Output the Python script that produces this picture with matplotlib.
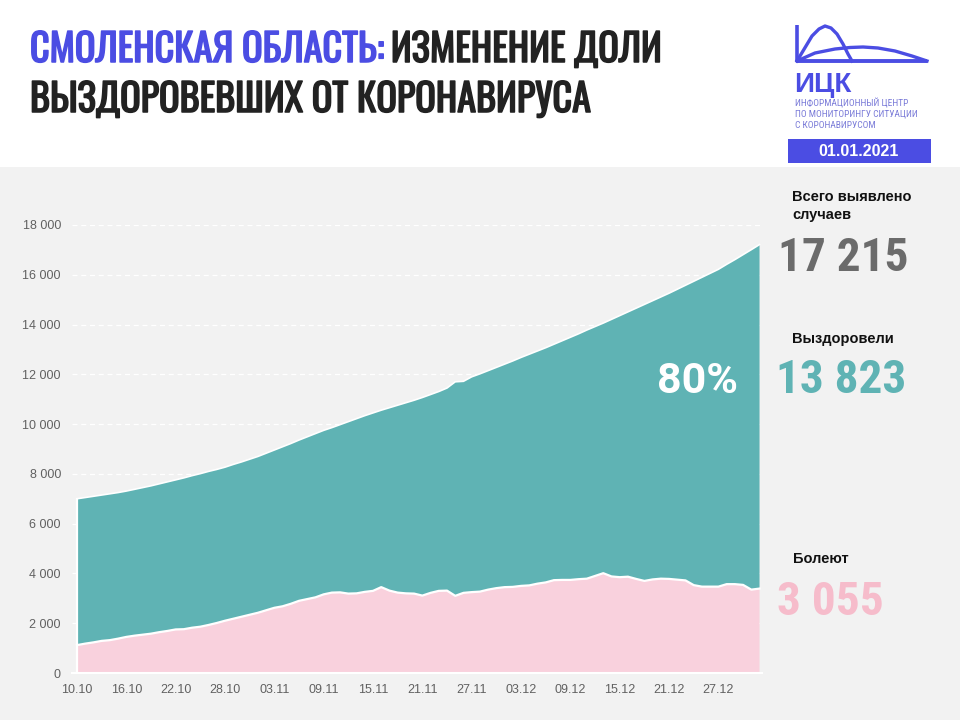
import matplotlib
matplotlib.use("Agg")
import matplotlib.pyplot as plt
import matplotlib.patheffects as pe
from matplotlib.patches import Rectangle
import numpy as np

# данные: 10.10.2020 - 01.01.2021
start_labels = ["10.10", "16.10", "22.10", "28.10", "03.11", "09.11", "15.11",
                "21.11", "27.11", "03.12", "09.12", "15.12", "21.12", "27.12"]

total = [7000, 7050, 7100, 7150, 7200, 7250, 7310, 7380, 7450, 7520,
         7600, 7680, 7760, 7840, 7930, 8010, 8100, 8180, 8270, 8380,
         8480, 8590, 8700, 8830, 8960, 9090, 9220, 9360, 9490, 9620,
         9750, 9860, 9980, 10100, 10220, 10340, 10450, 10560, 10660, 10760,
         10860, 10960, 11070, 11190, 11310, 11450, 11700, 11720, 11900, 12020,
         12150, 12280, 12410, 12540, 12680, 12810, 12940, 13070, 13210, 13350,
         13490, 13630, 13780, 13920, 14060, 14210, 14360, 14510, 14660, 14810,
         14960, 15110, 15260, 15420, 15580, 15740, 15900, 16060, 16220, 16420,
         16610, 16810, 17010, 17215]

# не выздоровели (болеют + умерли)
active = [1120, 1180, 1230, 1290, 1320, 1380, 1450, 1500, 1540, 1580,
          1640, 1690, 1750, 1760, 1820, 1860, 1930, 2010, 2100, 2180,
          2260, 2340, 2420, 2520, 2620, 2680, 2780, 2900, 2970, 3040,
          3160, 3230, 3240, 3190, 3200, 3260, 3300, 3450, 3310, 3230,
          3200, 3190, 3110, 3220, 3300, 3310, 3100, 3220, 3250, 3270,
          3350, 3410, 3450, 3460, 3500, 3520, 3590, 3640, 3730, 3740,
          3740, 3770, 3790, 3900, 4010, 3880, 3850, 3870, 3780, 3700,
          3760, 3790, 3780, 3750, 3720, 3530, 3470, 3470, 3470, 3570,
          3570, 3540, 3350, 3392]

yticks = [0, 2000, 4000, 6000, 8000, 10000, 12000, 14000, 16000, 18000]

BLUE = "#4b4de3"
TEAL = "#5fb3b4"
PINK = "#f9d1dd"
BG = "#f2f2f2"

W, H = 960, 720
fig = plt.figure(figsize=(9.6, 7.2), dpi=100, facecolor="white")

def fx(px):
    return px / W

def fy(py):
    return 1 - py / H

title_font = ["Oswald", "Roboto Condensed", "PT Sans Narrow", "DejaVu Sans"]
num_font = ["Roboto Condensed", "PT Sans Narrow", "Liberation Sans", "DejaVu Sans"]
lab_font = ["Liberation Sans", "DejaVu Sans"]

# серый фон нижней части
fig.patches.append(Rectangle((0, 0), 1, fy(167), transform=fig.transFigure,
                             facecolor=BG, edgecolor="none", zorder=-5))

days = np.arange(len(total))
recovered = np.array(total) - np.array(active)

ax = fig.add_axes([fx(72), fy(673), fx(762 - 72), (673 - 225) / H])
ax.set_facecolor("none")
ax.stackplot(days, active, recovered, colors=[PINK, TEAL], zorder=2)
ax.plot(days, active, color="white", lw=1.6, zorder=3)
ax.plot(days, total, color="white", lw=1.2, zorder=3)
ax.plot([days[0], days[0]], [0, total[0]], color="white", lw=1.6, zorder=3)

ax.set_xlim(-0.6, 83.3)
ax.set_ylim(0, 18000)
ax.set_yticks(yticks)
ax.set_yticklabels([f"{v:,}".replace(",", " ") for v in yticks])
ax.set_xticks(np.arange(0, 84, 6))
ax.set_xticklabels(start_labels)
ax.grid(axis="y", color="white", ls=(0, (4, 3)), lw=0.9, zorder=1)
for s in ["top", "right", "left"]:
    ax.spines[s].set_visible(False)
ax.spines["bottom"].set_color("white")
ax.spines["bottom"].set_linewidth(1.5)
ax.spines["bottom"].set_zorder(4)
ax.tick_params(axis="y", length=0, pad=8, labelsize=9, labelcolor="#616161")
ax.tick_params(axis="x", direction="in", length=4, color="white", width=1.2,
               pad=8, labelsize=9, labelcolor="#616161")
for t in ax.get_xticklabels() + ax.get_yticklabels():
    t.set_family(lab_font)

# заголовок
bold_fx = [pe.withStroke(linewidth=1.1, foreground="#4b4de3")]
dark_fx = [pe.withStroke(linewidth=1.1, foreground="#222222")]
t1 = fig.text(fx(30), fy(62), "СМОЛЕНСКАЯ ОБЛАСТЬ:", color=BLUE, fontsize=27.5,
              family=title_font, va="baseline", path_effects=bold_fx)
renderer = fig.canvas.get_renderer()
bb = t1.get_window_extent(renderer)
fig.text(bb.x1 / W + fx(6), fy(62), "ИЗМЕНЕНИЕ ДОЛИ", color="#222222",
         fontsize=27.5, family=title_font, va="baseline", path_effects=dark_fx)
fig.text(fx(30), fy(112), "ВЫЗДОРОВЕВШИХ ОТ КОРОНАВИРУСА", color="#222222",
         fontsize=27.5, family=title_font, va="baseline", path_effects=dark_fx)

# логотип ИЦК
lax = fig.add_axes([fx(790), fy(66), fx(140), 46 / H])
lax.set_xlim(790, 930)
lax.set_ylim(66, 20)
lax.axis("off")
lax.plot([797, 797], [25, 61], color=BLUE, lw=2.6, solid_capstyle="butt")
lax.plot([797, 927], [61, 61], color=BLUE, lw=2.8, solid_capstyle="butt")
lax.plot([797, 812, 819, 825, 831, 837, 843, 848, 852],
         [61, 36, 29, 26, 28, 34, 44, 54, 61], color=BLUE, lw=2.4,
         solid_joinstyle="round")
lax.plot([797, 815, 835, 850, 863, 878, 895, 912, 927],
         [61, 53, 49, 47.5, 47, 48, 51, 56, 61], color=BLUE, lw=2.4,
         solid_joinstyle="round")

fig.text(fx(794), fy(92), "ИЦК", color=BLUE, fontsize=20, fontweight="bold",
         family=lab_font, va="baseline")
small = ["ИНФОРМАЦИОННЫЙ ЦЕНТР", "ПО МОНИТОРИНГУ СИТУАЦИИ", "С КОРОНАВИРУСОМ"]
for i, line in enumerate(small):
    fig.text(fx(795), fy(106 + i * 11), line, color="#7a7bd8", fontsize=6.8,
             family=num_font, va="baseline")

fig.patches.append(Rectangle((fx(788), fy(163)), fx(931 - 788), 24 / H,
                             transform=fig.transFigure, facecolor=BLUE,
                             edgecolor="none", zorder=1))
fig.text(fx(859), fy(151), "01.01.2021", color="white", fontsize=11.5,
         fontweight="bold", family=lab_font, ha="center", va="center")

# подписи справа
fig.text(fx(792), fy(201), "Всего выявлено", fontsize=10.5, fontweight="bold",
         color="#111111", family=lab_font, va="baseline")
fig.text(fx(792), fy(219), "случаев", fontsize=10.5, fontweight="bold",
         color="#111111", family=lab_font, va="baseline")
fig.text(fx(778), fy(271), "17 215", fontsize=34, fontweight="bold",
         color="#6b6b6b", family=num_font, va="baseline")
fig.text(fx(792), fy(343), "Выздоровели", fontsize=10.5, fontweight="bold",
         color="#111111", family=lab_font, va="baseline")
fig.text(fx(776), fy(393), "13 823", fontsize=34, fontweight="bold",
         color=TEAL, family=num_font, va="baseline")
fig.text(fx(793), fy(563), "Болеют", fontsize=10.5, fontweight="bold",
         color="#111111", family=lab_font, va="baseline")
fig.text(fx(777), fy(615), "3 055", fontsize=34, fontweight="bold",
         color="#f6bccb", family=num_font, va="baseline")

fig.text(fx(657), fy(393), "80%", fontsize=31, fontweight="bold",
         color="white", family=["Roboto", "Liberation Sans", "DejaVu Sans"],
         va="baseline", zorder=5)

fig.savefig("out.png", dpi=100, facecolor=fig.get_facecolor())
